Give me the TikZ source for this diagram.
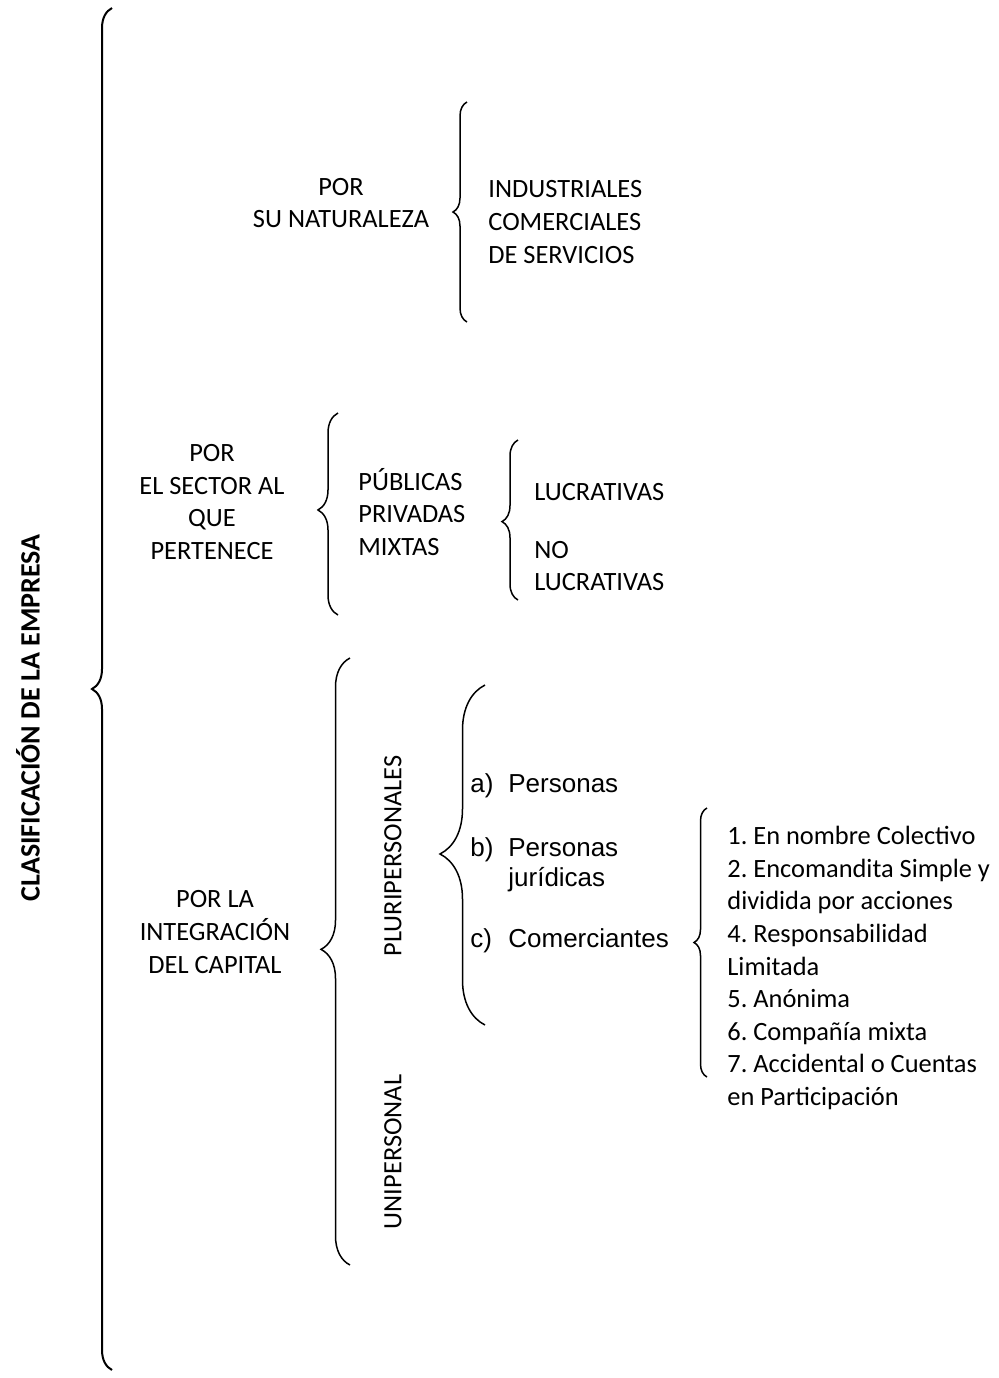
\documentclass[tikz,border=0pt]{standalone}
\usepackage{fontspec}
\setmainfont{Carlito}
\newfontfamily\arialfont{Liberation Sans}
\usetikzlibrary{decorations.pathreplacing}
\frenchspacing

\tikzset{
    llave/.style n args={2}{decorate, decoration={brace, amplitude=#1, aspect=#2}, line width=0.75pt},
    texto/.style={inner sep=0pt, align=center, font=\fontsize{13.2}{16.3}\selectfont},
    lista/.style={inner sep=0pt, align=left, anchor=west, font=\fontsize{13.2}{16.3}\selectfont},
    arial/.style={inner sep=0pt, anchor=base west, font=\arialfont\fontsize{13}{15}\selectfont},
}

\begin{document}
\begin{tikzpicture}[x=0.5pt, y=-0.5pt]
    \useasboundingbox (0,0) rectangle (999,1378);

    \node[rotate=90, inner sep=0pt, font=\bfseries\fontsize{14}{16}\selectfont] (titulo) at (28,718) {CLASIFICACIÓN DE LA EMPRESA};

    \coordinate (A1) at (112,1370);
    \coordinate (A2) at (112,8);
    \draw[llave={10pt}{0.5}, line width=1pt] (A1) -- (A2);

    % por su naturaleza
    \node[texto] (nat) at (341,203) {POR\\SU NATURALEZA};
    \coordinate (B1) at (467,322);
    \coordinate (B2) at (467,102);
    \draw[llave={7pt}{0.5}] (B1) -- (B2);
    \node[lista] (tipos) at (488,222) {INDUSTRIALES\\COMERCIALES\\DE SERVICIOS};

    % por el sector
    \node[texto] (sector) at (212,502) {POR\\EL SECTOR AL\\QUE\\PERTENECE};
    \coordinate (C1) at (338,615);
    \coordinate (C2) at (338,413);
    \draw[llave={10pt}{0.52}] (C1) -- (C2);
    \node[lista] (ppm) at (358,512) {PÚBLICAS\\PRIVADAS\\MIXTAS};
    \coordinate (D1) at (518,600);
    \coordinate (D2) at (518,440);
    \draw[llave={8pt}{0.49}] (D1) -- (D2);
    \node[lista] (lucro) at (534,492) {LUCRATIVAS};
    \node[lista] (nolucro) at (534,566) {NO\\LUCRATIVAS};

    % por la integracion del capital
    \node[texto] (capital) at (215,932) {POR LA\\INTEGRACIÓN\\DEL CAPITAL};
    \coordinate (E1) at (350,1265);
    \coordinate (E2) at (350,658);
    \draw[llave={14.5pt}{0.52}] (E1) -- (E2);
    \node[texto, rotate=90] (pluri) at (393,856) {PLURIPERSONALES};
    \node[texto, rotate=90] (uni) at (393,1152) {UNIPERSONAL};

    \coordinate (F1) at (485,1025);
    \coordinate (F2) at (485,685);
    \draw[llave={22.5pt}{0.503}] (F1) -- (F2);
    \node[arial] (a) at (470,792) {a)};
    \node[arial] (pa) at (508,792) {Personas};
    \node[arial] (b) at (470,856) {b)};
    \node[arial] (pb) at (508,856) {Personas};
    \node[arial] (pb2) at (508,886) {jurídicas};
    \node[arial] (c) at (470,947) {c)};
    \node[arial] (pc) at (508,947) {Comerciantes};

    \coordinate (G1) at (707,1077);
    \coordinate (G2) at (707,808);
    \draw[llave={6.5pt}{0.5}] (G1) -- (G2);
    \node[lista] (soc) at (727,968) {1. En nombre Colectivo\\2. Encomandita Simple y\\dividida por acciones\\4. Responsabilidad\\Limitada\\5. Anónima\\6. Compañía mixta\\7. Accidental o Cuentas\\en Participación};

\end{tikzpicture}
\end{document}
